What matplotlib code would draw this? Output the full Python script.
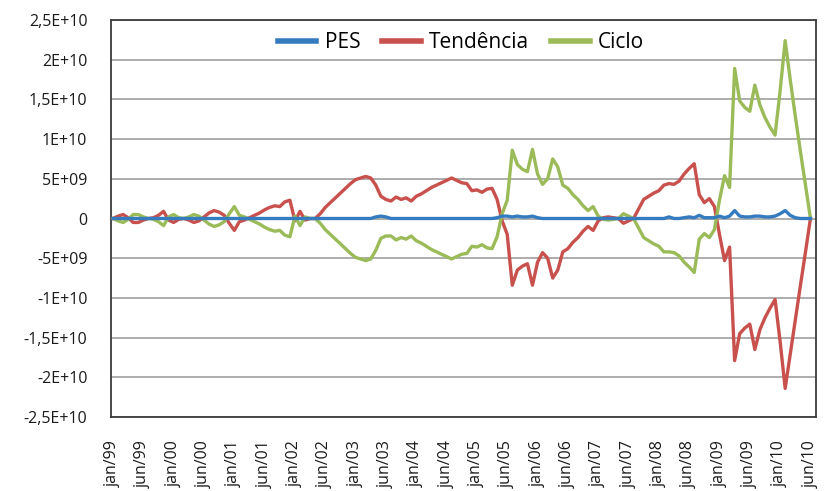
import matplotlib
matplotlib.use("Agg")
import matplotlib.pyplot as plt
import numpy as np

plt.rcParams['font.family'] = ['Open Sans', 'DejaVu Sans']

tick_labels = ["jan/99", "jun/99", "jan/00", "jun/00", "jan/01", "jun/01", "jan/02", "jun/02",
               "jan/03", "jun/03", "jan/04", "jun/04", "jan/05", "jun/05", "jan/06", "jun/06",
               "jan/07", "jun/07", "jan/08", "jun/08", "jan/09", "jun/09", "jan/10", "jun/10"]

# values in units of 1E+09
pes = ([0.0] * 52 + [0.2, 0.3, 0.2] + [0.0] * 21 +
       [0.1, 0.3, 0.3, 0.2, 0.3, 0.2, 0.2, 0.3, 0.1] + [0.0] * 24 +
       [0.0, 0.2, 0.0, 0.0, 0.1, 0.2, 0.1] +
       [0.4, 0.1, 0.1, 0.1, 0.3, 0.1, 0.3, 1.0, 0.3, 0.2, 0.2, 0.3, 0.3, 0.2, 0.2, 0.3,
        0.6, 1.0, 0.4, 0.1, 0.0, 0.0, 0.0])

tendencia = [0.0, 0.3, 0.5, 0.1, -0.5, -0.5, -0.2, 0.0, 0.1, 0.4,
             0.9, -0.2, -0.5, -0.1, 0.0, -0.2, -0.5, -0.3, 0.2, 0.7,
             1.0, 0.8, 0.4, -0.6, -1.5, -0.4, -0.2, 0.1, 0.4, 0.7,
             1.1, 1.4, 1.6, 1.5, 2.1, 2.3, -0.3, 0.9, -0.2, 0.0,
             0.0, 0.6, 1.4, 2.0, 2.6, 3.2, 3.8, 4.4, 4.9, 5.1,
             5.3, 5.1, 4.2, 2.8, 2.4, 2.2, 2.7, 2.4, 2.6, 2.2,
             2.8, 3.1, 3.5, 3.9, 4.2, 4.5, 4.8, 5.1, 4.8, 4.5,
             4.4, 3.5, 3.6, 3.3, 3.7, 3.8, 2.4, -0.3, -2.0, -8.4,
             -6.5, -6.0, -5.7, -8.4, -5.5, -4.3, -5.0, -7.5, -6.5, -4.2,
             -3.8, -3.0, -2.4, -1.6, -1.0, -1.5, -0.3, 0.1, 0.2, 0.1,
             0.0, -0.6, -0.3, 0.0, 1.2, 2.4, 2.8, 3.2, 3.5, 4.2,
             4.4, 4.3, 4.7, 5.6, 6.3, 6.9, 3.0, 2.0, 2.5, 1.5,
             -2.0, -5.3, -3.6, -17.9, -14.5, -13.8, -13.3, -16.5, -14.0, -12.5,
             -11.3, -10.2, -15.5, -21.4, -17.1, -12.8, -8.5, -4.3, 0.0]

ciclo = [0.0, -0.3, -0.5, -0.1, 0.5, 0.5, 0.2, 0.0, -0.1, -0.4,
         -0.9, 0.2, 0.5, 0.1, 0.0, 0.2, 0.5, 0.3, -0.2, -0.7,
         -1.0, -0.8, -0.4, 0.6, 1.5, 0.4, 0.2, -0.1, -0.4, -0.7,
         -1.1, -1.4, -1.6, -1.5, -2.1, -2.3, 0.3, -0.9, 0.2, 0.0,
         0.0, -0.6, -1.4, -2.0, -2.6, -3.2, -3.8, -4.4, -4.9, -5.1,
         -5.3, -5.1, -4.0, -2.5, -2.2, -2.2, -2.7, -2.4, -2.6, -2.2,
         -2.8, -3.1, -3.5, -3.9, -4.2, -4.5, -4.8, -5.1, -4.8, -4.5,
         -4.4, -3.5, -3.6, -3.3, -3.7, -3.8, -2.3, 0.6, 2.3, 8.6,
         6.8, 6.2, 5.9, 8.7, 5.6, 4.3, 5.0, 7.5, 6.5, 4.2,
         3.8, 3.0, 2.4, 1.6, 1.0, 1.5, 0.3, -0.1, -0.2, -0.1,
         0.0, 0.6, 0.3, 0.0, -1.2, -2.4, -2.8, -3.2, -3.5, -4.2,
         -4.2, -4.3, -4.7, -5.5, -6.1, -6.8, -2.6, -1.9, -2.4, -1.4,
         2.3, 5.4, 3.9, 18.9, 14.8, 14.0, 13.5, 16.8, 14.3, 12.7,
         11.5, 10.5, 16.1, 22.4, 17.5, 12.9, 8.5, 4.3, 0.0]

y_ticks = [2.5e10, 2e10, 1.5e10, 1e10, 5e9, 0, -5e9, -1e10, -1.5e10, -2e10, -2.5e10]
y_tick_labels = ["2,5E+10", "2E+10", "1,5E+10", "1E+10", "5E+09", "0",
                 "-5E+09", "-1E+10", "-1,5E+10", "-2E+10", "-2,5E+10"]

scale = 1e9
x = np.arange(len(tendencia))

fig = plt.figure(figsize=(8.24, 4.91), dpi=100)
ax = fig.add_axes([111 / 824, 1 - 417 / 491, 705 / 824, 397 / 491])

ax.plot(x, np.array(pes) * scale, color='#347BBF', lw=2.4, label='PES', zorder=4)
ax.plot(x, np.array(tendencia) * scale, color='#C8504D', lw=2.4, label='Tendência', zorder=3)
ax.plot(x, np.array(ciclo) * scale, color='#9BBB59', lw=2.4, label='Ciclo', zorder=3)

ax.set_ylim(-2.5e10, 2.5e10)
ax.set_xlim(-0.4, len(tendencia) - 1 + 1.1)
ax.set_yticks(y_ticks)
ax.set_yticklabels(y_tick_labels, fontsize=11.5, color='#1a1a1a')
ax.set_xticks(np.arange(0, len(tendencia), 6))
ax.set_xticklabels(tick_labels, rotation=90, fontsize=11.5, color='#1a1a1a')
ax.tick_params(axis='y', length=0, pad=17)
ax.tick_params(axis='x', length=0, pad=17)
ax.yaxis.grid(True, color='#a0a0a0', lw=1.2)
ax.set_axisbelow(True)
for s in ax.spines.values():
    s.set_color('#3c3c3c')
    s.set_linewidth(1.3)

leg = fig.legend(loc='center', bbox_to_anchor=(461 / 824, 1 - 43 / 491), ncol=3, frameon=False,
                 fontsize=15, handlelength=1.85, handletextpad=0.4, columnspacing=1.05)
for h in leg.get_lines():
    h.set_linewidth(4)

fig.savefig('out.png', dpi=100)
